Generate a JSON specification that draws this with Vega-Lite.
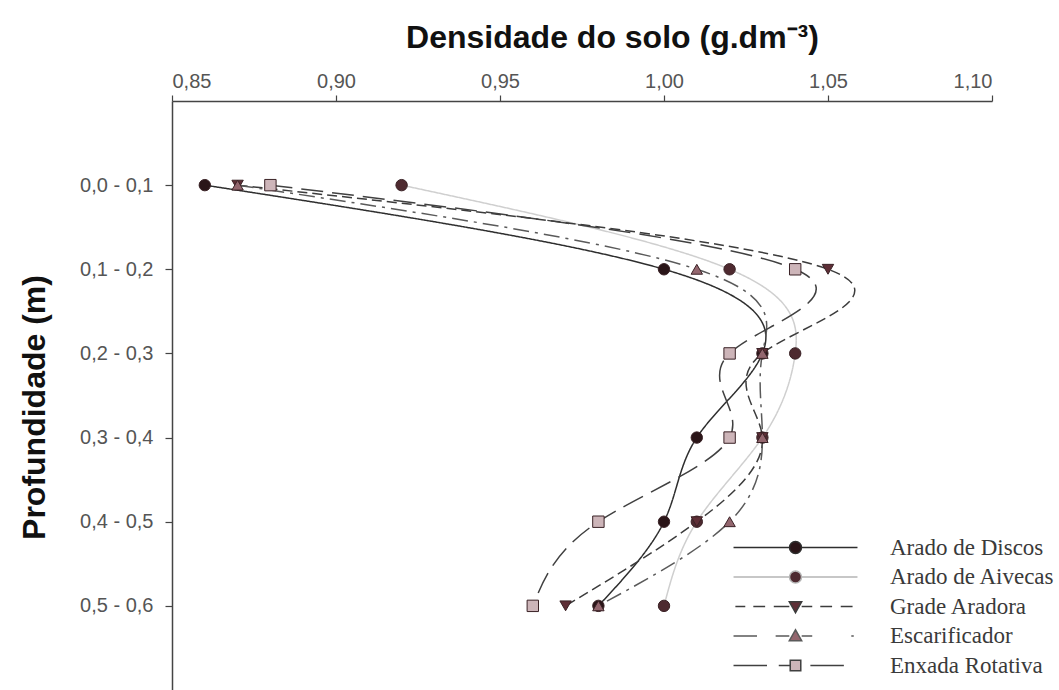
{
  "$schema": "https://vega.github.io/schema/vega-lite/v6.json",
  "width": 820,
  "height": 589,
  "autosize": {"type": "none"},
  "padding": {"left": 172, "top": 101, "right": 67, "bottom": 0},
  "background": "white",
  "config": {
    "view": {"stroke": null},
    "axis": {
      "grid": false,
      "domainColor": "#444",
      "domainWidth": 1.5,
      "tickColor": "#444",
      "tickWidth": 1.2,
      "labelFont": "Liberation Sans",
      "labelFontSize": 20,
      "labelColor": "#555",
      "titleFont": "Liberation Sans",
      "titleFontSize": 32,
      "titleFontWeight": "bold",
      "titleColor": "#111"
    },
    "legend": {
      "title": null,
      "orient": "none",
      "legendX": 612,
      "legendY": 435,
      "symbolSize": 144,
      "symbolStrokeWidth": 1.5,
      "labelFont": "Liberation Serif",
      "labelFontSize": 23,
      "labelColor": "#3a3a3a",
      "labelOffset": 83,
      "labelLimit": 400,
      "rowPadding": 5.5
    }
  },
  "data": {
    "values": [
      {"trat": "Arado de Discos", "prof": "0,0 - 0,1", "dens": 0.86},
      {"trat": "Arado de Discos", "prof": "0,1 - 0,2", "dens": 1.00},
      {"trat": "Arado de Discos", "prof": "0,2 - 0,3", "dens": 1.03},
      {"trat": "Arado de Discos", "prof": "0,3 - 0,4", "dens": 1.01},
      {"trat": "Arado de Discos", "prof": "0,4 - 0,5", "dens": 1.00},
      {"trat": "Arado de Discos", "prof": "0,5 - 0,6", "dens": 0.98},
      {"trat": "Arado de Aivecas", "prof": "0,0 - 0,1", "dens": 0.92},
      {"trat": "Arado de Aivecas", "prof": "0,1 - 0,2", "dens": 1.02},
      {"trat": "Arado de Aivecas", "prof": "0,2 - 0,3", "dens": 1.04},
      {"trat": "Arado de Aivecas", "prof": "0,3 - 0,4", "dens": 1.03},
      {"trat": "Arado de Aivecas", "prof": "0,4 - 0,5", "dens": 1.01},
      {"trat": "Arado de Aivecas", "prof": "0,5 - 0,6", "dens": 1.00},
      {"trat": "Grade Aradora", "prof": "0,0 - 0,1", "dens": 0.87},
      {"trat": "Grade Aradora", "prof": "0,1 - 0,2", "dens": 1.05},
      {"trat": "Grade Aradora", "prof": "0,2 - 0,3", "dens": 1.03},
      {"trat": "Grade Aradora", "prof": "0,3 - 0,4", "dens": 1.03},
      {"trat": "Grade Aradora", "prof": "0,4 - 0,5", "dens": 1.01},
      {"trat": "Grade Aradora", "prof": "0,5 - 0,6", "dens": 0.97},
      {"trat": "Escarificador", "prof": "0,0 - 0,1", "dens": 0.87},
      {"trat": "Escarificador", "prof": "0,1 - 0,2", "dens": 1.01},
      {"trat": "Escarificador", "prof": "0,2 - 0,3", "dens": 1.03},
      {"trat": "Escarificador", "prof": "0,3 - 0,4", "dens": 1.03},
      {"trat": "Escarificador", "prof": "0,4 - 0,5", "dens": 1.02},
      {"trat": "Escarificador", "prof": "0,5 - 0,6", "dens": 0.98},
      {"trat": "Enxada Rotativa", "prof": "0,0 - 0,1", "dens": 0.88},
      {"trat": "Enxada Rotativa", "prof": "0,1 - 0,2", "dens": 1.04},
      {"trat": "Enxada Rotativa", "prof": "0,2 - 0,3", "dens": 1.02},
      {"trat": "Enxada Rotativa", "prof": "0,3 - 0,4", "dens": 1.02},
      {"trat": "Enxada Rotativa", "prof": "0,4 - 0,5", "dens": 0.98},
      {"trat": "Enxada Rotativa", "prof": "0,5 - 0,6", "dens": 0.96}
    ]
  },
  "encoding": {
    "x": {
      "field": "dens",
      "type": "quantitative",
      "scale": {"domain": [0.85, 1.10], "nice": false, "zero": false},
      "axis": {
        "orient": "top",
        "values": [0.85, 0.90, 0.95, 1.00, 1.05, 1.10],
        "labelExpr": "replace(format(datum.value, '.2f'), '.', ',')",
        "tickSize": 6,
        "labelPadding": 4,
        "title": "Densidade do solo (g.dm⁻³)",
        "titleX": 440,
        "titleY": -54,
        "titleAlign": "center",
        "titleBaseline": "alphabetic"
      }
    },
    "y": {
      "field": "prof",
      "type": "ordinal",
      "scale": {
        "type": "point",
        "padding": 1,
        "domain": ["0,0 - 0,1", "0,1 - 0,2", "0,2 - 0,3", "0,3 - 0,4", "0,4 - 0,5", "0,5 - 0,6"]
      },
      "axis": {
        "tickSize": 7,
        "labelPadding": 12,
        "title": "Profundidade (m)",
        "titleAngle": 270,
        "titleX": -128,
        "titleY": 306,
        "titleAlign": "center",
        "titleBaseline": "alphabetic"
      }
    }
  },
  "layer": [
    {
      "mark": {"type": "line", "interpolate": "natural", "strokeWidth": 1.5},
      "encoding": {
        "order": {"field": "prof", "type": "ordinal"},
        "stroke": {
          "field": "trat",
          "type": "nominal",
          "scale": {
            "domain": ["Arado de Discos", "Arado de Aivecas", "Grade Aradora", "Escarificador", "Enxada Rotativa"],
            "range": ["#2e2e2e", "#cfcfcf", "#3c3c3c", "#5a5a5a", "#404040"]
          },
          "legend": null
        },
        "strokeDash": {
          "field": "trat",
          "type": "nominal",
          "scale": {
            "domain": ["Arado de Discos", "Arado de Aivecas", "Grade Aradora", "Escarificador", "Enxada Rotativa"],
            "range": [[1, 0], [1, 0], [10, 5], [16, 6, 3, 6], [22, 9]]
          },
          "legend": null
        }
      }
    },
    {
      "mark": {"type": "point", "filled": true, "size": 130, "opacity": 1, "stroke": "#3a2226", "strokeWidth": 1},
      "encoding": {
        "shape": {
          "field": "trat",
          "type": "nominal",
          "scale": {
            "domain": ["Arado de Discos", "Arado de Aivecas", "Grade Aradora", "Escarificador", "Enxada Rotativa"],
            "range": ["circle", "circle", "triangle-down", "triangle-up", "square"]
          },
          "legend": null
        },
        "fill": {
          "field": "trat",
          "type": "nominal",
          "scale": {
            "domain": ["Arado de Discos", "Arado de Aivecas", "Grade Aradora", "Escarificador", "Enxada Rotativa"],
            "range": ["#2a1518", "#4e2a30", "#5e2e36", "#93666e", "#cdb5b9"]
          },
          "legend": null
        }
      }
    },
    {
      "transform": [{"filter": "datum.dens > 5"}],
      "mark": {"type": "point", "filled": true, "size": 144, "opacity": 1, "strokeWidth": 1.5},
      "encoding": {
        "shape": {
          "field": "trat",
          "type": "nominal",
          "scale": {
            "domain": ["Arado de Discos", "Arado de Aivecas", "Grade Aradora", "Escarificador", "Enxada Rotativa"],
            "range": [
              "M-10.33,0H-1M1,0H10.33M1,0A1,1,0,1,1,-1,0A1,1,0,1,1,1,0Z",
              "M-10.33,0H-1M1,0H10.33M1,0A1,1,0,1,1,-1,0A1,1,0,1,1,1,0Z",
              "M-10.02,0H-8.37M-7.03,0H-5.06M-3.62,0H-1.03M1.03,0H2.79M4.13,0H6.1M7.54,0H9.51M-1.03,-0.78L1.03,-0.78L0,1.03Z",
              "M-10.33,0H-6.41M-3.31,0H-1.03M1.03,0H2.79M9.3,0H9.71M-1.03,0.78L1.03,0.78L0,-1.03Z",
              "M-10.33,0H-4.75M-2.79,0H-0.88M2.48,0H8.06M-0.88,-0.88H0.88V0.88H-0.88Z"
            ]
          },
          "legend": {}
        },
        "fill": {
          "field": "trat",
          "type": "nominal",
          "scale": {
            "domain": ["Arado de Discos", "Arado de Aivecas", "Grade Aradora", "Escarificador", "Enxada Rotativa"],
            "range": ["#2a1518", "#4e2a30", "#5e2e36", "#93666e", "#cdb5b9"]
          },
          "legend": {}
        },
        "stroke": {
          "field": "trat",
          "type": "nominal",
          "scale": {
            "domain": ["Arado de Discos", "Arado de Aivecas", "Grade Aradora", "Escarificador", "Enxada Rotativa"],
            "range": ["#2e2e2e", "#b5b5b5", "#3c3c3c", "#5a5a5a", "#404040"]
          },
          "legend": {}
        }
      }
    }
  ],
  "resolve": {"scale": {"shape": "independent", "fill": "independent", "stroke": "independent"}}
}
